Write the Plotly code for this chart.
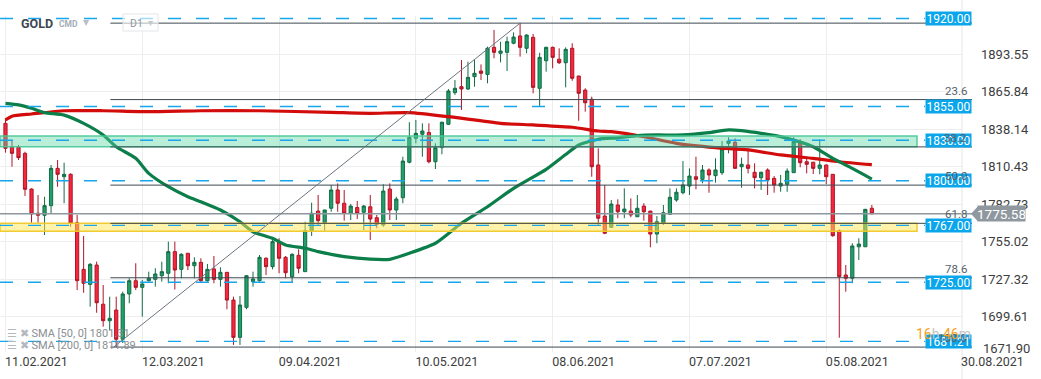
import plotly.graph_objects as go

# ---------------- data ----------------
bars_open = [1842.5, 1824.8, 1824.8, 1820.3, 1793.9, 1776.0, 1774.5, 1781.6, 1809.2, 1803.0,
             1804.8, 1769.0, 1734.5, 1723.4, 1737.7, 1708.7, 1696.5, 1704.4, 1682.8, 1716.3,
             1726.1, 1721.2, 1726.1, 1727.1, 1729.8, 1731.6, 1747.6, 1734.5, 1746.4, 1737.2,
             1739.7, 1726.1, 1734.8, 1727.1, 1732.3, 1711.8, 1684.2, 1706.4, 1725.4, 1726.1,
             1742.7, 1736.5, 1755.0, 1743.4, 1729.1, 1744.9, 1732.8, 1763.1, 1777.6, 1769.0,
             1779.7, 1793.2, 1783.4, 1776.0, 1780.2, 1776.7, 1780.8, 1772.7, 1767.3, 1793.9,
             1778.4, 1787.5, 1813.7, 1831.4, 1834.4, 1835.8, 1814.1, 1824.5, 1841.8, 1865.2,
             1869.6, 1867.9, 1877.0, 1881.2, 1878.7, 1898.7, 1894.3, 1895.0, 1901.7, 1907.1,
             1898.0, 1906.1, 1868.4, 1888.8, 1898.7, 1889.9, 1887.3, 1898.0, 1877.5, 1867.1,
             1860.3, 1811.7, 1773.9, 1765.6, 1782.1, 1777.1, 1777.6, 1773.4, 1781.3, 1777.6,
             1760.6, 1768.6, 1775.2, 1785.8, 1791.2, 1796.1, 1803.0, 1801.1, 1808.0, 1803.8,
             1806.0, 1827.7, 1828.5, 1810.4, 1811.7, 1806.3, 1802.3, 1808.0, 1801.8, 1796.1,
             1797.4, 1806.0, 1828.9, 1814.1, 1813.7, 1809.2, 1811.7, 1804.8, 1763.1, 1730.3,
             1727.9, 1751.2, 1751.2, 1779.7]
bars_high = [1845.5, 1830.2, 1826.5, 1821.5, 1794.4, 1789.5, 1788.2, 1811.7, 1815.4, 1813.4,
             1805.5, 1774.7, 1759.2, 1739.2, 1740.2, 1722.9, 1714.3, 1714.3, 1718.0, 1727.9,
             1739.0, 1726.6, 1732.8, 1735.3, 1740.2, 1755.0, 1755.0, 1746.4, 1746.6, 1743.4,
             1742.7, 1738.5, 1744.4, 1736.0, 1732.5, 1714.3, 1714.8, 1730.0, 1732.8, 1745.1,
             1743.4, 1757.9, 1757.5, 1744.4, 1746.4, 1749.3, 1769.7, 1783.8, 1789.5, 1778.5,
             1796.9, 1798.1, 1793.2, 1782.8, 1785.1, 1782.1, 1789.5, 1774.7, 1797.4, 1798.1,
             1788.2, 1817.8, 1843.3, 1845.0, 1842.5, 1842.5, 1827.7, 1843.7, 1867.9, 1874.5,
             1889.3, 1888.1, 1889.3, 1886.1, 1899.2, 1911.5, 1902.9, 1906.6, 1909.8, 1916.6,
             1908.3, 1908.6, 1894.7, 1899.2, 1899.2, 1898.0, 1898.7, 1901.7, 1877.6, 1868.4,
             1862.2, 1824.0, 1796.9, 1785.8, 1786.3, 1794.4, 1787.0, 1789.5, 1783.4, 1777.7,
             1773.9, 1782.1, 1794.4, 1794.4, 1814.6, 1809.2, 1817.8, 1811.7, 1809.2, 1816.6,
             1829.4, 1832.2, 1831.4, 1817.1, 1824.0, 1812.9, 1806.7, 1809.2, 1803.5, 1804.3,
             1809.2, 1832.2, 1830.7, 1817.8, 1814.1, 1830.7, 1811.8, 1804.9, 1764.1, 1737.7,
             1753.8, 1757.5, 1779.0, 1782.1]
bars_low = [1820.8, 1810.4, 1815.4, 1788.8, 1769.0, 1769.0, 1759.9, 1776.0, 1795.6, 1783.4,
            1766.0, 1719.2, 1717.2, 1706.9, 1702.4, 1692.1, 1689.6, 1677.0, 1680.0, 1709.4,
            1719.2, 1699.5, 1725.4, 1721.7, 1725.4, 1724.2, 1719.6, 1727.9, 1734.0, 1727.9,
            1724.6, 1725.4, 1724.2, 1721.7, 1705.0, 1678.6, 1678.6, 1705.0, 1721.7, 1725.4,
            1730.3, 1734.5, 1731.6, 1727.9, 1724.6, 1731.6, 1732.8, 1759.2, 1767.3, 1763.1,
            1777.1, 1777.1, 1770.5, 1771.0, 1771.7, 1763.6, 1756.2, 1764.9, 1766.0, 1771.0,
            1771.0, 1783.4, 1812.9, 1827.7, 1817.8, 1812.9, 1808.7, 1819.6, 1841.3, 1863.5,
            1852.4, 1867.1, 1869.6, 1874.5, 1872.1, 1890.6, 1887.6, 1881.2, 1901.0, 1891.8,
            1894.3, 1864.7, 1854.8, 1880.7, 1883.2, 1886.4, 1869.1, 1874.0, 1844.4, 1851.1,
            1803.0, 1767.3, 1760.6, 1765.5, 1772.3, 1772.3, 1773.0, 1773.3, 1770.5, 1750.8,
            1753.8, 1767.3, 1775.1, 1784.5, 1790.0, 1789.5, 1793.7, 1798.1, 1791.2, 1798.6,
            1804.3, 1820.3, 1809.1, 1794.9, 1805.5, 1794.4, 1793.2, 1789.5, 1791.2, 1791.9,
            1791.9, 1805.9, 1810.0, 1805.5, 1805.0, 1804.8, 1797.6, 1758.6, 1683.9, 1718.0,
            1724.2, 1741.4, 1751.1, 1775.3]
bars_close = [1824.0, 1820.3, 1817.1, 1793.7, 1775.4, 1774.5, 1781.6, 1809.2, 1804.8, 1804.8,
              1768.6, 1726.1, 1724.2, 1738.2, 1709.8, 1696.5, 1698.3, 1682.8, 1716.3, 1726.1,
              1721.2, 1723.7, 1727.9, 1731.1, 1732.8, 1747.6, 1734.0, 1745.6, 1737.2, 1739.7,
              1726.1, 1734.5, 1727.1, 1732.3, 1711.8, 1684.2, 1708.1, 1729.8, 1727.4, 1743.4,
              1736.5, 1755.0, 1742.7, 1732.0, 1745.6, 1735.3, 1763.1, 1776.0, 1770.5, 1778.4,
              1793.2, 1783.4, 1776.0, 1781.3, 1775.8, 1781.3, 1771.7, 1767.8, 1792.4, 1778.4,
              1786.5, 1814.6, 1832.2, 1835.1, 1836.8, 1814.1, 1824.5, 1843.3, 1866.4, 1868.4,
              1867.9, 1876.5, 1879.5, 1879.5, 1898.0, 1895.0, 1896.0, 1902.9, 1906.3, 1898.7,
              1907.8, 1869.1, 1891.3, 1898.7, 1891.3, 1887.3, 1897.2, 1875.8, 1864.7, 1857.7,
              1810.4, 1772.3, 1761.2, 1782.8, 1777.1, 1779.1, 1774.7, 1779.7, 1777.1, 1760.6,
              1769.7, 1776.4, 1787.8, 1791.5, 1796.9, 1803.5, 1801.1, 1808.0, 1804.3, 1808.0,
              1823.5, 1829.4, 1809.2, 1812.2, 1809.2, 1802.3, 1806.3, 1800.6, 1796.9, 1798.1,
              1807.2, 1828.9, 1813.4, 1812.2, 1809.2, 1811.7, 1803.0, 1759.4, 1729.1, 1727.9,
              1751.8, 1753.2, 1778.9, 1775.58]
bar_index = list(range(len(bars_open)))

sma50_idx = [0, 2, 4, 6, 9, 12, 15, 17, 20, 22, 25, 28, 30, 33, 36, 38, 41, 43, 46, 48,
             52, 56, 59, 62, 66, 70, 74, 78, 83, 86, 88, 91, 94, 97, 100, 104, 108, 111,
             116, 120, 124, 127, 130, 133]
sma50_val = [1857.3, 1856.1, 1853.6, 1850.4, 1848.6, 1842.5, 1833.9, 1825.2, 1816.6, 1805.5,
             1795.6, 1788.2, 1784.5, 1778.4, 1769.7, 1762.3, 1757.5, 1752.5, 1750.1, 1747.6,
             1743.9, 1742.0, 1741.9, 1746.4, 1753.8, 1768.6, 1780.8, 1794.4, 1808.5, 1819.5,
             1826.5, 1830.7, 1831.8, 1833.4, 1833.9, 1833.9, 1835.6, 1837.6, 1835.1, 1831.4,
             1825.2, 1816.6, 1809.2, 1801.3]
sma200_idx = [0, 1, 4, 9, 15, 22, 30, 39, 50, 56, 62, 68, 76, 81, 87, 91, 93, 98, 103,
              109, 114, 119, 124, 128, 133]
sma200_val = [1845.0, 1847.8, 1849.4, 1851.8, 1851.8, 1851.1, 1851.8, 1851.8, 1850.6, 1849.9,
              1850.4, 1847.4, 1842.5, 1841.3, 1839.6, 1836.8, 1836.3, 1832.6, 1827.7, 1824.5,
              1822.8, 1819.1, 1816.6, 1814.1, 1811.9]
sma_legend = ["SMA [50, 0] 1801.31", "SMA [200, 0] 1811.89"]

date_tick_idx = [0, 21, 42, 63, 84, 105, 126]
date_tick_text = ["11.02.2021", "12.03.2021", "09.04.2021", "10.05.2021",
                  "08.06.2021", "07.07.2021", "05.08.2021"]
axis_date_text = "30.08.2021"

price_ticks = [1893.55, 1865.84, 1838.14, 1810.43, 1782.73, 1755.02, 1727.32, 1699.61]
bottom_price_tick = 1671.90

level_values = [1920.00, 1855.00, 1830.00, 1800.00, 1767.00, 1725.00, 1681.21]
zone_green = [1825.2, 1833.1]
zone_yellow = [1762.6, 1768.6]
fib_ratios = [0.0, 0.236, 0.382, 0.5, 0.618, 0.786, 1.0]
fib_text = ["", "23.6", "38.2", "50.0", "61.8", "78.6", "100.0"]
fib_low_bar = 17
fib_high_bar = 79
last_price = 1775.58
countdown_h, countdown_m = "16", "46"

# ---------------- layout geometry ----------------
W, H = 1041, 379
PL, PR, PT, PB = 0, 962, 16, 352          # plot area in pixels
X_RANGE = [-0.84, 146.84]
Y_RANGE = [1673.37, 1921.88]
FONT = "Roboto, 'Open Sans', sans-serif"


def px_x(px):
    return (px - PL) / (PR - PL)


def px_y(py):
    return (PB - py) / (PB - PT)


def idx_to_paper(i):
    return (i - X_RANGE[0]) / (X_RANGE[1] - X_RANGE[0])


fig = go.Figure()

fig.add_trace(go.Candlestick(
    x=bar_index, open=bars_open, high=bars_high, low=bars_low, close=bars_close,
    increasing=dict(fillcolor="#22a06b", line=dict(color="#136b45", width=1)),
    decreasing=dict(fillcolor="#f5283e", line=dict(color="#ad1526", width=1)),
    whiskerwidth=0, showlegend=False, hoverinfo="skip"))

fig.add_trace(go.Scatter(x=sma200_idx, y=sma200_val, mode="lines",
                         line=dict(color="#d20b0b", width=3.2, shape="spline", smoothing=0.6),
                         showlegend=False, hoverinfo="skip"))
fig.add_trace(go.Scatter(x=sma50_idx, y=sma50_val, mode="lines",
                         line=dict(color="#0b7e4a", width=3.2, shape="spline", smoothing=0.6),
                         showlegend=False, hoverinfo="skip"))

shapes = []
annotations = []

# zones (drawn above candles, translucent)
for (y0, y1), fill, edge in [(zone_green, "rgba(90,214,165,0.42)", "rgba(70,200,150,0.9)"),
                             (zone_yellow, "rgba(255,232,90,0.5)", "rgba(240,200,40,0.95)")]:
    shapes.append(dict(type="rect", xref="paper", yref="y", x0=0, x1=px_x(917), y0=y0, y1=y1,
                       fillcolor=fill, line=dict(color=edge, width=1.5), layer="above"))

# fibonacci lines
fib_hi = bars_high[fib_high_bar]
fib_lo = bars_low[fib_low_bar]
fib_levels = [fib_hi - r * (fib_hi - fib_lo) for r in fib_ratios]
fib_x0 = idx_to_paper(fib_low_bar - 0.9)
for lv, txt in zip(fib_levels, fib_text):
    shapes.append(dict(type="line", xref="paper", yref="y", x0=fib_x0, x1=px_x(972), y0=lv, y1=lv,
                       line=dict(color="#3d4852", width=1), layer="above"))

# current price line
shapes.append(dict(type="line", xref="paper", yref="y", x0=0, x1=px_x(972), y0=last_price, y1=last_price,
                   line=dict(color="#8e979e", width=1.4), layer="above"))

# dashed support/resistance lines
for lv in level_values:
    shapes.append(dict(type="line", xref="paper", yref="y", x0=0, x1=px_x(925), y0=lv, y1=lv,
                       line=dict(color="#17a6ec", width=1.4, dash="13px,15px"), layer="above"))

# diagonal trend line (low to high)
shapes.append(dict(type="line", xref="x", yref="y", x0=fib_low_bar - 0.4, y0=fib_lo,
                   x1=fib_high_bar, y1=fib_hi, line=dict(color="#6c7680", width=1), layer="above"))

# right plot border
shapes.append(dict(type="line", xref="paper", yref="paper", x0=1, x1=1, y0=px_y(0), y1=px_y(379),
                   line=dict(color="#e6e6e6", width=1)))

# level boxes
for lv in level_values:
    annotations.append(dict(xref="paper", yref="y", x=px_x(948.5), y=lv, text=f"{lv:.2f}",
                            showarrow=False, bgcolor="#0aa5ea", width=45, height=13,
                            font=dict(family=FONT, size=12, color="white"), xanchor="center",
                            yanchor="middle", borderpad=0))

# fib labels
for lv, txt in zip(fib_levels, fib_text):
    if txt:
        annotations.append(dict(xref="paper", yref="y", x=px_x(969), y=lv, yshift=9, text=txt,
                                showarrow=False, xanchor="right", yanchor="middle",
                                font=dict(family=FONT, size=11.5, color="#56616b")))

# last price tag
shapes.append(dict(type="path", xref="paper", yref="y",
                   path=f"M {px_x(971)},{last_price} L {px_x(978)},{last_price + 5.6} "
                        f"L {px_x(978)},{last_price - 5.6} Z",
                   fillcolor="#8f989f", line=dict(width=0)))
annotations.append(dict(xref="paper", yref="y", x=px_x(1001.5), y=last_price, text=f"{last_price:.2f}",
                        showarrow=False, bgcolor="#8f989f", width=47, height=15, borderpad=0,
                        xanchor="center", yanchor="middle",
                        font=dict(family=FONT, size=13.5, color="white")))

# bottom price tick (pushed up like in the reference)
annotations.append(dict(xref="paper", yref="paper", x=px_x(981), y=px_y(348), text=f"{bottom_price_tick:.2f}",
                        showarrow=False, xanchor="left", yanchor="middle",
                        font=dict(family=FONT, size=13, color="#3d3d3d")))
annotations.append(dict(xref="paper", yref="paper", x=px_x(992), y=px_y(362), text=axis_date_text,
                        showarrow=False, xanchor="center", yanchor="middle",
                        font=dict(family=FONT, size=12.5, color="#3d3d3d")))

# countdown
annotations.append(dict(xref="paper", yref="paper", x=px_x(914), y=px_y(334),
                        text=f"<span style='color:#f6a21d'>{countdown_h}</span><span style='color:#c4c4c4'>h</span> "
                             f"<span style='color:#f6a21d'>{countdown_m}</span><span style='color:#c4c4c4'>m</span>",
                        showarrow=False, xanchor="left", yanchor="middle",
                        font=dict(family=FONT, size=14)))

# indicator legend
for k, (txt, py) in enumerate(zip(sma_legend, [333, 345.5])):
    annotations.append(dict(xref="paper", yref="paper", x=px_x(5), y=px_y(py),
                            text="<span style='color:#b3b9be'>☰ ✖</span> " + txt,
                            showarrow=False, xanchor="left", yanchor="middle",
                            font=dict(family=FONT, size=11, color="#8a8f94")))

# header
annotations.append(dict(xref="paper", yref="paper", x=px_x(19), y=px_y(23), text="<b>GOLD</b>",
                        showarrow=False, xanchor="left", yanchor="middle",
                        font=dict(family=FONT, size=12.5, color="#3c4752")))
annotations.append(dict(xref="paper", yref="paper", x=px_x(57), y=px_y(24), text="<b>CMD</b>",
                        showarrow=False, xanchor="left", yanchor="middle",
                        font=dict(family=FONT, size=8.5, color="#a3adb7")))
annotations.append(dict(xref="paper", yref="paper", x=px_x(81), y=px_y(22), text="▾",
                        showarrow=False, xanchor="left", yanchor="middle",
                        font=dict(family=FONT, size=12, color="#b7bec5")))
shapes.append(dict(type="rect", xref="paper", yref="paper", x0=px_x(123), x1=px_x(158),
                   y0=px_y(31), y1=px_y(14), line=dict(color="#e1e5e9", width=1), fillcolor="rgba(255,255,255,0.6)"))
annotations.append(dict(xref="paper", yref="paper", x=px_x(128), y=px_y(23), text="D1",
                        showarrow=False, xanchor="left", yanchor="middle",
                        font=dict(family=FONT, size=10.5, color="#8c97a2")))
annotations.append(dict(xref="paper", yref="paper", x=px_x(146), y=px_y(22), text="▾",
                        showarrow=False, xanchor="left", yanchor="middle",
                        font=dict(family=FONT, size=10, color="#c3c9ce")))

fig.update_layout(
    width=W, height=H,
    margin=dict(l=PL, r=W - PR, t=PT, b=H - PB),
    paper_bgcolor="white", plot_bgcolor="white",
    font=dict(family=FONT),
    showlegend=False,
    shapes=shapes, annotations=annotations,
    xaxis=dict(range=X_RANGE, tickvals=date_tick_idx, ticktext=date_tick_text,
               showgrid=True, gridcolor="#ededed", gridwidth=1, zeroline=False, showline=False,
               ticks="", ticklabelshift=31, tickfont=dict(family=FONT, size=12.5, color="#3d3d3d"),
               rangeslider=dict(visible=False), fixedrange=True),
    yaxis=dict(range=Y_RANGE, side="right", tickvals=price_ticks,
               ticktext=[f"{v:.2f}" for v in price_ticks],
               showgrid=True, gridcolor="#eeeeee", gridwidth=1, zeroline=False, showline=False,
               ticks="", ticklabelstandoff=18, tickfont=dict(family=FONT, size=13, color="#3d3d3d"),
               fixedrange=True),
)

fig.write_html("out.html", config={"displayModeBar": False},
               post_script="document.body.style.margin='0px';document.body.style.overflow='hidden';")
